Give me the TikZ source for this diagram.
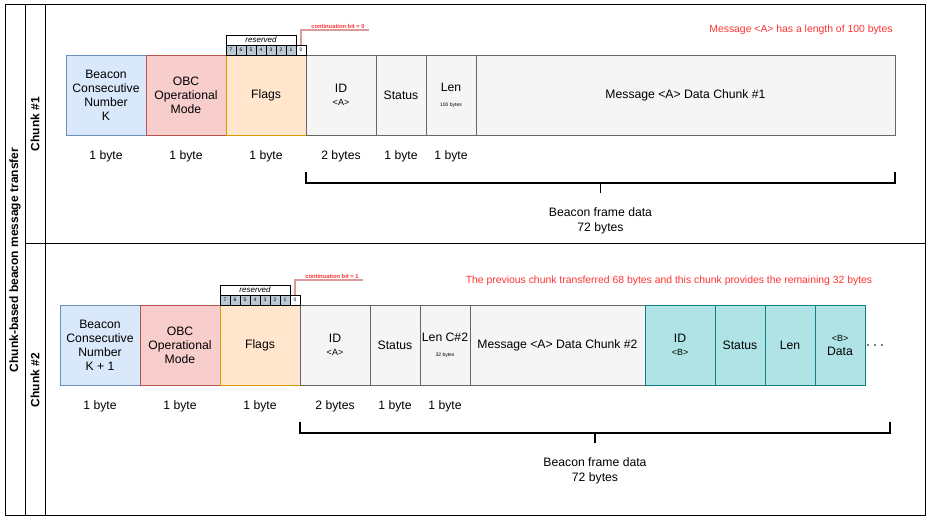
\documentclass[tikz,border=0pt]{standalone}
\usepackage{fontspec}
\setmainfont{Liberation Sans}
\usetikzlibrary{positioning}

\definecolor{bcfill}{HTML}{DAE8FC}
\definecolor{bcdraw}{HTML}{6C8EBF}
\definecolor{obfill}{HTML}{F8CECC}
\definecolor{obdraw}{HTML}{B85450}
\definecolor{flfill}{HTML}{FFE6CC}
\definecolor{fldraw}{HTML}{D79B00}
\definecolor{gyfill}{HTML}{F5F5F5}
\definecolor{gydraw}{HTML}{666666}
\definecolor{tlfill}{HTML}{B0E3E6}
\definecolor{tldraw}{HTML}{0E8088}
\definecolor{btfill}{HTML}{BAC8D3}
\definecolor{btdraw}{HTML}{23445D}
\definecolor{notered}{HTML}{FF3333}
\definecolor{contred}{HTML}{DD9A9A}

\newcommand{\smalltxt}{\fontsize{9}{11}\selectfont}
\newcommand{\tinytxt}{\fontsize{5}{5}\selectfont}

\tikzset{
    field/.style={draw, minimum height=80pt, inner sep=0pt, outer sep=0pt, align=center,
        line width=0.9pt, font=\fontsize{12.2}{14}\selectfont},
    beaconbox/.style={field, fill=bcfill, draw=bcdraw, minimum width=80pt, anchor=north west},
    obcbox/.style={field, fill=obfill, draw=obdraw, minimum width=80pt, right=0pt of #1},
    flagbox/.style={field, fill=flfill, draw=fldraw, minimum width=80pt, right=0pt of #1},
    greybox/.style={field, fill=gyfill, draw=gydraw, right=0pt of #1},
    tealbox/.style={field, fill=tlfill, draw=tldraw, right=0pt of #1},
    bitbox/.style={draw=black, fill=btfill, minimum width=10pt, minimum height=10pt, inner sep=0pt,
        outer sep=0pt, line width=0.6pt, font=\fontsize{5}{5}\selectfont, anchor=south west},
    bitzero/.style={bitbox, fill=white},
    resbox/.style={draw=black, fill=white, minimum width=70pt, minimum height=10pt, inner sep=0pt,
        outer sep=0pt, line width=0.8pt, font=\fontsize{8}{8}\selectfont\itshape, anchor=south west},
    contline/.style={contred, line width=1.1pt},
    contlabel/.style={text=notered, font=\fontsize{5.8}{6}\selectfont\bfseries, inner sep=1pt, anchor=south},
    note/.style={text=notered, font=\fontsize{10.4}{12}\selectfont, inner sep=0pt},
    bytes/.style={font=\fontsize{12.2}{14}\selectfont, inner sep=0pt},
    bracket/.style={line width=1.3pt},
    frametext/.style={font=\fontsize{12.2}{15}\selectfont, align=center, inner sep=0pt},
    sidelabel/.style={font=\fontsize{12}{14}\selectfont\bfseries, rotate=90, inner sep=0pt},
}

\begin{document}
\begin{tikzpicture}[x=1pt, y=-1pt]
    \useasboundingbox (0,0) rectangle (931,521);

    % frame
    \draw[line width=1pt] (5,5) rectangle (925,515);
    \draw[line width=1pt] (25,5) -- (25,515) (45,5) -- (45,515) (25,244) -- (925,244);
    \node[sidelabel] (title) at (15,260) {Chunk-based beacon message transfer};
    \node[sidelabel] (chunkA) at (35,124) {Chunk \#1};
    \node[sidelabel] (chunkB) at (35,380) {Chunk \#2};

    % chunk 1
    \node[beaconbox] (beaconA) at (66,55) {Beacon\\Consecutive\\Number\\K};
    \node[obcbox=beaconA] (obcA) {OBC\\Operational\\Mode};
    \node[flagbox=obcA] (flagsA) {Flags};
    \node[greybox=flagsA, minimum width=70pt] (idA) {ID\\[-1pt]{\smalltxt <A>}};
    \node[greybox=idA, minimum width=50pt] (statusA) {Status};
    \node[greybox=statusA, minimum width=50pt] (lenA) {Len\\[1pt]{\tinytxt 100 bytes}};
    \node[greybox=lenA, minimum width=419pt] (msgA) {Message <A> Data Chunk \#1};

    % flag bits 1
    \foreach \b [count=\k from 0] in {7,6,5,4,3,2,1}
        \node[bitbox] (bitA\b) at ([xshift=\k*10pt]flagsA.north west) {\b};
    \node[bitzero] (bitA0) at (bitA1.south east) {0};
    \node[resbox] (resA) at (bitA7.north west) {reserved};
    \draw[contline] (bitA0.north) |- ++(68,-15) coordinate (contA);
    \node[contlabel] (contlabA) at ([xshift=-31pt,yshift=0.5pt]contA) {continuation bit = 0};

    \node[note] (noteA) at (801,30) {Message <A> has a length of 100 bytes};

    % sizes 1
    \node[bytes] (szA1) at ([yshift=-21.5pt]beaconA.south) {1 byte};
    \node[bytes] (szA2) at ([yshift=-21.5pt]obcA.south) {1 byte};
    \node[bytes] (szA3) at ([yshift=-21.5pt]flagsA.south) {1 byte};
    \node[bytes] (szA4) at ([yshift=-21.5pt]idA.south) {2 bytes};
    \node[bytes] (szA5) at ([yshift=-21.5pt]statusA.south) {1 byte};
    \node[bytes] (szA6) at ([yshift=-21.5pt]lenA.south) {1 byte};

    % bracket 1
    \coordinate (brA) at ([yshift=-37pt]idA.south west);
    \coordinate (brB) at ([yshift=-37pt]msgA.south east);
    \draw[bracket] (brA) -- ++(0,11) -| (brB);
    \path (brA) -- (brB) coordinate[pos=0.5] (midA);
    \draw[bracket] ([yshift=-11pt]midA) -- ++(0,10) coordinate (tickA);
    \node[frametext, anchor=north] (frameA) at ([yshift=-14pt]tickA) {Beacon frame data\\72 bytes};

    % chunk 2
    \node[beaconbox] (beaconB) at (60,305) {Beacon\\Consecutive\\Number\\K + 1};
    \node[obcbox=beaconB] (obcB) {OBC\\Operational\\Mode};
    \node[flagbox=obcB] (flagsB) {Flags};
    \node[greybox=flagsB, minimum width=70pt] (idB) {ID\\[-1pt]{\smalltxt <A>}};
    \node[greybox=idB, minimum width=50pt] (statusB) {Status};
    \node[greybox=statusB, minimum width=50pt] (lenB) {Len C\#2\\[1pt]{\tinytxt 32 bytes}};
    \node[greybox=lenB, minimum width=175pt] (msgB) {Message <A> Data Chunk \#2};
    \node[tealbox=msgB, minimum width=70pt] (idC) {ID\\[-1pt]{\smalltxt <B>}};
    \node[tealbox=idC, minimum width=50pt] (statusC) {Status};
    \node[tealbox=statusC, minimum width=50pt] (lenC) {Len};
    \node[tealbox=lenC, minimum width=50pt] (dataC) {{\smalltxt <B>}\\Data};
    \foreach \d in {0,7,14}
        \fill ([xshift=\d pt+3pt]dataC.east) circle (0.8pt);

    % flag bits 2
    \foreach \b [count=\k from 0] in {7,6,5,4,3,2,1}
        \node[bitbox] (bitB\b) at ([xshift=\k*10pt]flagsB.north west) {\b};
    \node[bitzero] (bitB0) at (bitB1.south east) {0};
    \node[resbox] (resB) at (bitB7.north west) {reserved};
    \draw[contline] (bitB0.north) |- ++(68,-15) coordinate (contB);
    \node[contlabel] (contlabB) at ([xshift=-31pt,yshift=0.5pt]contB) {continuation bit = 1};

    \node[note] (noteB) at (669,281) {The previous chunk transferred 68 bytes and this chunk provides the remaining 32 bytes};

    % sizes 2
    \node[bytes] (szB1) at ([yshift=-21.5pt]beaconB.south) {1 byte};
    \node[bytes] (szB2) at ([yshift=-21.5pt]obcB.south) {1 byte};
    \node[bytes] (szB3) at ([yshift=-21.5pt]flagsB.south) {1 byte};
    \node[bytes] (szB4) at ([yshift=-21.5pt]idB.south) {2 bytes};
    \node[bytes] (szB5) at ([yshift=-21.5pt]statusB.south) {1 byte};
    \node[bytes] (szB6) at ([yshift=-21.5pt]lenB.south) {1 byte};

    % bracket 2
    \coordinate (brC) at ([yshift=-37pt]idB.south west);
    \coordinate (brD) at (890,422);
    \draw[bracket] (brC) -- ++(0,11) -| (brD);
    \path (brC) -- (brD) coordinate[pos=0.5] (midB);
    \draw[bracket] ([yshift=-11pt]midB) -- ++(0,10) coordinate (tickB);
    \node[frametext, anchor=north] (frameB) at ([yshift=-14pt]tickB) {Beacon frame data\\72 bytes};
\end{tikzpicture}
\end{document}
